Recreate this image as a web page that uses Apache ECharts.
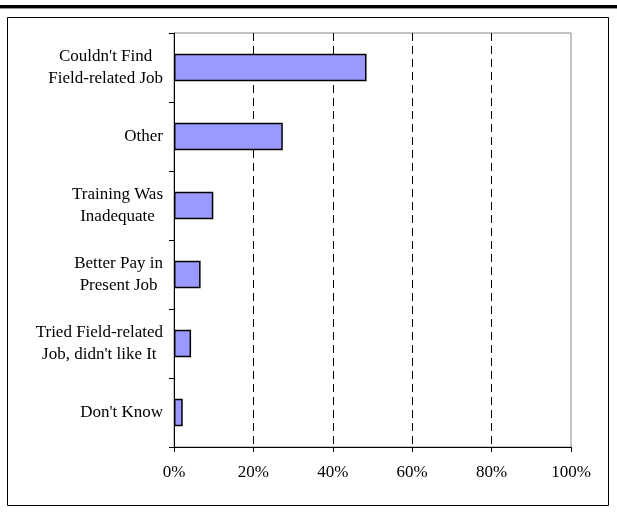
<!DOCTYPE html>
<html>
<head>
<meta charset="utf-8">
<script src="https://cdn.jsdelivr.net/npm/echarts@6/dist/echarts.min.js"></script>
<style>
  html, body { margin: 0; padding: 0; background: #fff; }
  #chart { width: 617px; height: 512px; }
</style>
</head>
<body>
<div id="chart"></div>
<script>
// reasons for not working in the field (share of respondents, %)
var categories = [
  "Couldn't Find\nField-related Job",
  "Other",
  "Training Was\nInadequate",
  "Better Pay in\nPresent Job",
  "Tried Field-related\nJob, didn't like It",
  "Don't Know"
];
var shares = [48.5, 27.4, 9.9, 6.7, 4.3, 2.2];
var xTicks = [0, 20, 40, 60, 80, 100];

var serif = "'Liberation Serif', 'Times New Roman', serif";

var chart = echarts.init(document.getElementById('chart'));

var option = {
  animation: false,
  backgroundColor: '#fff',
  graphic: [
    // thick rule on top of page
    { type: 'rect', shape: { x: 0, y: 5, width: 617, height: 3 }, style: { fill: '#000' } },
    { type: 'rect', shape: { x: 0, y: 8, width: 617, height: 1 }, style: { fill: '#999' } },
    // frame round the chart
    { type: 'rect', shape: { x: 7.5, y: 17.5, width: 601, height: 488 },
      style: { fill: 'none', stroke: '#000', lineWidth: 1 } }
  ],
  grid: {
    left: 174,
    right: 46,
    top: 33,
    bottom: 65,
    show: true,
    borderColor: '#888',
    borderWidth: 1
  },
  xAxis: {
    type: 'value',
    min: xTicks[0],
    max: xTicks[xTicks.length - 1],
    interval: xTicks[1] - xTicks[0],
    axisLine: { show: true, lineStyle: { color: '#000', width: 1 } },
    axisTick: { show: true, length: 5, lineStyle: { color: '#000' } },
    axisLabel: {
      color: '#000',
      fontFamily: serif,
      fontSize: 17,
      margin: 17,
      formatter: '{value}%'
    },
    splitLine: {
      show: true,
      showMinLine: false,
      showMaxLine: false,
      lineStyle: { color: '#000', width: 1, type: [8, 5] }
    }
  },
  yAxis: {
    type: 'category',
    inverse: true,
    data: categories,
    axisLine: { show: true, lineStyle: { color: '#000', width: 1 } },
    axisTick: { show: true, length: 5, lineStyle: { color: '#000' } },
    axisLabel: {
      color: '#000',
      margin: 11,
      align: 'right',
      formatter: function (v) {
        return v.split('\n').map(function (l) { return '{c|' + l + '}'; }).join('\n');
      },
      rich: {
        c: {
          align: 'center',
          color: '#000',
          fontFamily: serif,
          fontSize: 17,
          lineHeight: 22
        }
      }
    },
    splitLine: { show: false }
  },
  series: [
    {
      type: 'bar',
      data: shares,
      barWidth: '40%',
      itemStyle: {
        color: '#9999FF',
        borderColor: '#000',
        borderWidth: 1.5
      }
    }
  ]
};

chart.setOption(option);
</script>
</body>
</html>
